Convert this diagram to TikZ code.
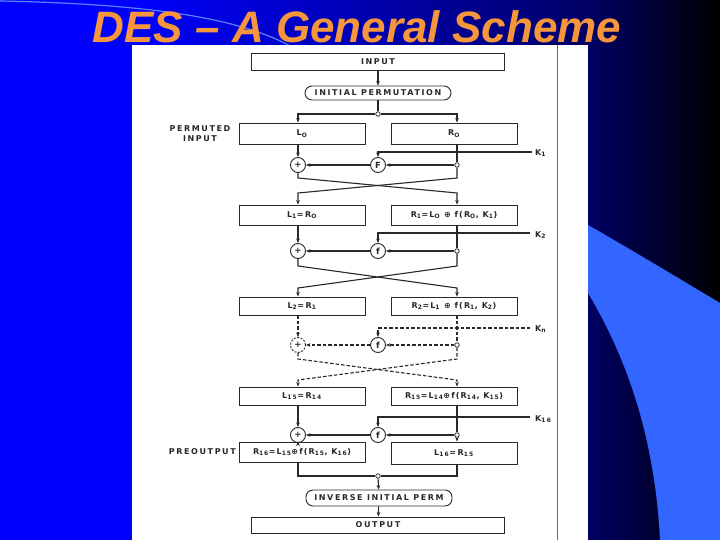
\documentclass[tikz,border=0pt]{standalone}
\usepackage{fontspec}
\setmainfont{Liberation Sans}
\newfontfamily\dfont{DejaVu Sans}[LetterSpace=20]
\newfontfamily\ffont{DejaVu Sans}[LetterSpace=14]
\usetikzlibrary{arrows.meta}
\definecolor{ink}{RGB}{40,40,40}
\definecolor{ttl}{RGB}{245,150,60}
\definecolor{swoosh}{RGB}{51,102,255}
\definecolor{navy}{RGB}{0,0,100}
\definecolor{arcblue}{RGB}{90,130,255}
\newcommand\sbs[1]{\textsubscript{#1}}
\begin{document}
\begin{tikzpicture}[x=1pt,y=-1pt,
  line/.style={draw=ink, line width=1.1pt},
  arr/.style={line, -{Stealth[length=4.5pt,width=3.6pt]}},
  dline/.style={line, dash pattern=on 3.5pt off 2pt},
  darr/.style={arr, dash pattern=on 3.5pt off 2pt},
  lab/.style={font=\dfont\bfseries\fontsize{8}{9}\selectfont, text=ink, inner sep=0pt},
  flab/.style={font=\ffont\bfseries\fontsize{8}{9}\selectfont, text=ink, inner sep=0pt},
  box/.style={lab, draw=ink, line width=0.9pt, minimum width=126pt, minimum height=20pt},
  fbox/.style={box, flab},
  wbox/.style={box, minimum width=253pt, minimum height=17pt},
  perm/.style={lab, draw=ink, line width=0.9pt, rounded corners=7pt, minimum width=146pt, minimum height=14pt},
  xr/.style={lab, draw=ink, line width=0.9pt, circle, minimum size=15pt, font=\dfont\bfseries\fontsize{8.5}{9}\selectfont},
  fn/.style={xr},
  dot/.style={draw=ink, line width=0.8pt, circle, fill=white, inner sep=0pt, minimum size=4.5pt},
  klab/.style={lab, anchor=west}
]
\useasboundingbox (0,0) rectangle (720,540);
% background
\fill[blue] (0,0) rectangle (720,540);
\shade[left color=blue, right color=navy] (130,0) rectangle (590,540);
\shade[left color=navy, right color=black] (589.5,0) rectangle (720,540);
\fill[swoosh] (588,225) .. controls (630,249) and (680,279) .. (720,303) -- (720,540) -- (660,540)
  .. controls (655,440) and (628,360) .. (588,293) -- cycle;
\draw[arcblue, line width=1.2pt] (0,1) .. controls (150,4) and (240,18) .. (292,47);
% panel
\fill[white] (132,45) rectangle (588,540);
\draw[ink!70, line width=0.6pt] (557,45) -- (557,540);
% title
\node[anchor=base, text=ttl, font=\bfseries\itshape\fontsize{44}{48}\selectfont] (title) at (357,42.5)
  {DES – A General Scheme};

% column coordinates
\coordinate (cl) at (298,0);
\coordinate (cc) at (378,0);
\coordinate (cr) at (457,0);

% top
\node[wbox] (in) at (378,61.5) {INPUT};
\node[perm] (ip) at (378,93) {INITIAL PERMUTATION};
\node[dot] (d0) at (378,114) {};
\node[box, minimum height=21pt] (L0) at (302,133.5) {L\sbs{O}};
\node[box, minimum height=21pt] (R0) at (454,133.5) {R\sbs{O}};
\node[lab, align=center] (pin) at (200,133.5) {PERMUTED\\[1pt]INPUT};
\draw[arr] (in) -- (ip);
\draw[line] (ip) -- (d0);
\draw[arr] (d0) -| (L0.north -| cl);
\draw[arr] (d0) -| (R0.north -| cr);

% round 1
\node[xr] (x1) at (298,165) {+};
\node[fn] (f1) at (378,165) {F};
\node[dot] (s1) at (457,165) {};
\coordinate (k1) at (532,152);
\node[klab] (k1l) at (535,153) {K\sbs{1}};
\draw[arr] (L0.south -| cl) -- (x1);
\draw[line] (R0.south -| cr) -- (s1);
\draw[arr] (s1) -- (f1);
\draw[arr] (f1) -- (x1);
\draw[arr] (k1) -| (f1);
\node[box] (L1) at (302,215) {L\sbs{1}=R\sbs{O}};
\node[fbox] (R1) at (454,215) {R\sbs{1}=L\sbs{O} ⊕ f(R\sbs{O}, K\sbs{1})};
\draw[arr] (x1) -- ++(0,13) -- ++(159,15) -- (R1.north -| cr);
\draw[arr] (s1) -- ++(0,13) -- ++(-159,15) -- (L1.north -| cl);

% round 2
\node[xr] (x2) at (298,251) {+};
\node[fn] (f2) at (378,251) {f};
\node[dot] (s2) at (457,251) {};
\coordinate (k2) at (530,233);
\node[klab] (k2l) at (535,235) {K\sbs{2}};
\draw[arr] (L1.south -| cl) -- (x2);
\draw[line] (R1.south -| cr) -- (s2);
\draw[arr] (s2) -- (f2);
\draw[arr] (f2) -- (x2);
\draw[arr] (k2) -| (f2);
\node[box, minimum height=18pt] (L2) at (302,306) {L\sbs{2}=R\sbs{1}};
\node[fbox, minimum height=18pt] (R2) at (454,306) {R\sbs{2}=L\sbs{1} ⊕ f(R\sbs{1}, K\sbs{2})};
\draw[arr] (x2) -- ++(0,15) -- ++(159,22) -- (R2.north -| cr);
\draw[arr] (s2) -- ++(0,15) -- ++(-159,22) -- (L2.north -| cl);

% round n (dashed)
\node[xr, dash pattern=on 2pt off 1.5pt] (xn) at (298,345) {+};
\node[fn] (fn1) at (378,345) {f};
\node[dot] (sn) at (457,345) {};
\coordinate (kn) at (530,328);
\node[klab] (knl) at (535,329) {K\sbs{n}};
\draw[darr] (L2.south -| cl) -- (xn);
\draw[dline] (R2.south -| cr) -- (sn);
\draw[darr] (sn) -- (fn1);
\draw[darr] (fn1) -- (xn);
\draw[darr] (kn) -| (fn1);
\node[box, minimum height=18pt] (L15) at (302,396) {L\sbs{15}=R\sbs{14}};
\node[fbox, minimum height=18pt] (R15) at (454,396) {R\sbs{15}=L\sbs{14}⊕f(R\sbs{14}, K\sbs{15})};
\draw[darr] (xn) -- ++(0,14) -- ++(159,21) -- (R15.north -| cr);
\draw[darr] (sn) -- ++(0,14) -- ++(-159,21) -- (L15.north -| cl);

% round 16
\node[xr] (x16) at (298,435) {+};
\node[fn] (f16) at (378,435) {f};
\node[dot] (s16) at (457,435) {};
\coordinate (k16) at (530,417);
\node[klab] (k16l) at (535,419) {K\sbs{16}};
\draw[arr] (L15.south -| cl) -- (x16);
\draw[line] (R15.south -| cr) -- (s16);
\draw[arr] (s16) -- (f16);
\draw[arr] (f16) -- (x16);
\draw[arr] (k16) -| (f16);
\node[fbox] (R16) at (302,452) {R\sbs{16}=L\sbs{15}⊕f(R\sbs{15}, K\sbs{16})};
\node[box, minimum height=22pt] (L16) at (454,453) {L\sbs{16}=R\sbs{15}};
\node[lab, anchor=east] (pre) at (236,452) {PREOUTPUT};
\draw[arr] (x16) -- (R16.north -| cl);
\draw[arr] (s16) -- (L16.north -| cr);

% output
\node[dot] (d1) at (378,476) {};
\node[perm, minimum height=16pt] (iip) at (379,498) {INVERSE INITIAL PERM};
\node[wbox, minimum height=16pt] (out) at (378,525) {OUTPUT};
\draw[line] (R16.south -| cl) |- (d1);
\draw[line] (L16.south -| cr) |- (d1);
\draw[arr] (d1) -- (iip);
\draw[arr] (iip) -- (out);
\end{tikzpicture}
\end{document}
